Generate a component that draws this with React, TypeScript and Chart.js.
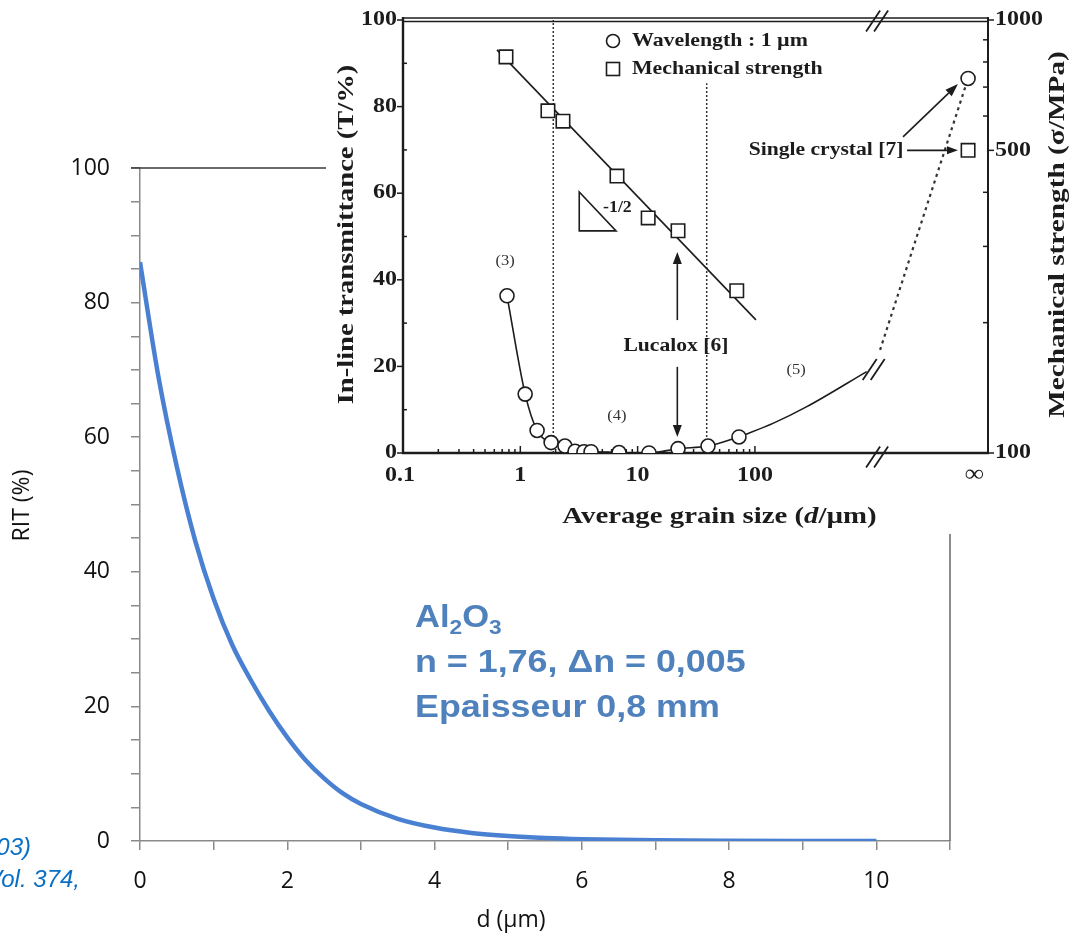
import React, { useEffect, useRef } from 'react';
import { Chart, registerables } from 'chart.js';

Chart.register(...registerables);

// ===== Main chart: RIT vs grain size d
const grainSize = [0, 0.25, 0.5, 0.75, 1, 1.25, 1.5, 1.75, 2, 2.25, 2.5, 2.75, 3, 3.5, 4, 4.5, 5, 5.5, 6, 7, 8, 9, 10];
const ritPercent = [86, 69.0, 55.6, 44.6, 36.0, 29.2, 24.0, 19.4, 15.4, 12.0, 9.3, 7.1, 5.5, 3.3, 2.0, 1.2, 0.73, 0.44, 0.27, 0.1, 0.04, 0.015, 0.005];
const mainXLabelValues = [0, 2, 4, 6, 8, 10];
const mainYLabelValues = [0, 20, 40, 60, 80, 100];
const mainXTitle = 'd (µm)';
const mainYTitle = 'RIT (%)';
const materialLines = ['n = 1,76, Δn = 0,005', 'Epaisseur 0,8 mm'];
const referenceLines = ['(2003)', 'Vol. 374,'];

// ===== Inset (scanned figure): transmittance & strength vs grain size
const circleGrain = [0.77, 1.10, 1.39, 1.83, 2.40, 2.93, 3.49, 4.01, 6.94, 12.5, 22.1, 39.8, 73.1];
const circleTrans = [36.3, 13.6, 5.2, 2.4, 1.6, 0.4, 0.3, 0.3, 0.1, 0, 1.0, 1.6, 3.7];
const tailGrain = [73.1, 144, 277, 897];
const tailTrans = [3.7, 6.9, 10.7, 18.8];
const squareGrain = [0.755, 1.72, 2.31, 6.67, 12.3, 22.1, 70];
const squareStrength = [822, 617, 584, 436, 349, 326, 237];
const fitGrain = [0.632, 102];
const fitStrength = [853, 203];
const infinityGrain = 6560;
const crystalTrans = 86.5;
const crystalStrength = 500;
const dottedGrain = [1166, 6560];
const dottedTrans = [23.8, 86.5];
const limitGrain = [1.91, 38.8];
const limitTop = [100, 85.4];
const breakGrain = 1100;
const insetXTickValues = [0.1, 1, 10, 100];
const insetXTickLabels = ['0.1', '1', '10', '100'];
const insetXMinor = [0.2, 0.3, 0.4, 0.5, 0.6, 0.7, 0.8, 0.9, 2, 3, 4, 5, 6, 7, 8, 9, 20, 30, 40, 50, 60, 70, 80, 90];
const insetLeftTicks = [0, 20, 40, 60, 80, 100];
const insetLeftMinor = [10, 30, 50, 70, 90];
const insetRightTicks = [100, 500, 1000];
const insetRightMinor = [200, 300, 400, 600, 700, 800, 900];
const legendLabels = ['Wavelength : 1 µm', 'Mechanical strength'];

const SERIF = '"Liberation Serif", "DejaVu Serif", serif';
const SANS = '"Open Sans", "Liberation Sans", sans-serif';
const ARIAL = '"Liberation Sans", Arial, sans-serif';
const INK = '#1c1c1c';
const BLUE_TEXT = '#4f81bd';

type TxtOpts = { align?: CanvasTextAlign; baseline?: CanvasTextBaseline; rot?: number; sx?: number; color?: string };

function txt(ctx: CanvasRenderingContext2D, s: string, x: number, y: number, font: string, o: TxtOpts = {}) {
  ctx.save();
  ctx.translate(x, y);
  if (o.rot) ctx.rotate(o.rot);
  if (o.sx) ctx.scale(o.sx, 1);
  ctx.font = font;
  ctx.fillStyle = o.color || INK;
  ctx.textAlign = o.align || 'left';
  ctx.textBaseline = o.baseline || 'alphabetic';
  ctx.fillText(s, 0, 0);
  ctx.restore();
}

function rich(ctx: CanvasRenderingContext2D, parts: { t: string; f: string; dy?: number }[], x: number, y: number, o: TxtOpts = {}) {
  ctx.save();
  ctx.translate(x, y);
  if (o.rot) ctx.rotate(o.rot);
  if (o.sx) ctx.scale(o.sx, 1);
  ctx.fillStyle = o.color || INK;
  ctx.textBaseline = o.baseline || 'alphabetic';
  ctx.textAlign = 'left';
  let total = 0;
  for (const p of parts) { ctx.font = p.f; total += ctx.measureText(p.t).width; }
  let cx = o.align === 'center' ? -total / 2 : o.align === 'right' ? -total : 0;
  for (const p of parts) {
    ctx.font = p.f;
    ctx.fillText(p.t, cx, p.dy || 0);
    cx += ctx.measureText(p.t).width;
  }
  ctx.restore();
}

function seg(ctx: CanvasRenderingContext2D, x1: number, y1: number, x2: number, y2: number) {
  ctx.beginPath();
  ctx.moveTo(x1, y1);
  ctx.lineTo(x2, y2);
  ctx.stroke();
}

function arrow(ctx: CanvasRenderingContext2D, x1: number, y1: number, x2: number, y2: number, head = 12, half = 4.5) {
  ctx.save();
  ctx.strokeStyle = INK;
  ctx.fillStyle = INK;
  ctx.lineWidth = 1.6;
  const a = Math.atan2(y2 - y1, x2 - x1);
  const bx = x2 - head * Math.cos(a);
  const by = y2 - head * Math.sin(a);
  seg(ctx, x1, y1, bx, by);
  ctx.beginPath();
  ctx.moveTo(x2, y2);
  ctx.lineTo(bx - half * Math.sin(a), by + half * Math.cos(a));
  ctx.lineTo(bx + half * Math.sin(a), by - half * Math.cos(a));
  ctx.closePath();
  ctx.fill();
  ctx.restore();
}

function slashes(ctx: CanvasRenderingContext2D, cx: number, cy: number) {
  ctx.save();
  ctx.strokeStyle = INK;
  ctx.lineWidth = 1.8;
  for (const k of [-4, 4]) seg(ctx, cx + k - 7, cy + 10.5, cx + k + 7, cy - 10.5);
  ctx.restore();
}

const mainPlugin = {
  id: 'mainDecor',
  afterDraw(chart: any) {
    const { ctx, chartArea: ca } = chart;
    ctx.save();
    ctx.lineWidth = 1.5;
    ctx.strokeStyle = '#3a3a3a';
    seg(ctx, ca.left - 9, ca.top, ca.right, ca.top);
    ctx.strokeStyle = '#666666';
    seg(ctx, ca.right, ca.top, ca.right, ca.bottom);
    ctx.restore();

    txt(ctx, mainYTitle, 22, (ca.top + ca.bottom) / 2 + 1, `23px ${SANS}`, { align: 'center', baseline: 'middle', rot: -Math.PI / 2, color: '#111' });
    txt(ctx, mainXTitle, ca.left + 371, 920, `23px ${SANS}`, { align: 'center', baseline: 'middle', color: '#111' });

    const bf = `bold 32px ${ARIAL}`;
    const sf = `bold 21px ${ARIAL}`;
    const lx = ca.left + 275;
    rich(ctx, [
      { t: 'Al', f: bf },
      { t: '2', f: sf, dy: 7 },
      { t: 'O', f: bf },
      { t: '3', f: sf, dy: 7 },
    ], lx, ca.top + 459, { color: BLUE_TEXT, sx: 1.08 });
    materialLines.forEach((s, i) => txt(ctx, s, lx, ca.top + 504 + 45 * i, bf, { color: BLUE_TEXT, sx: 1.12 }));

    const rf = `italic 24px ${ARIAL}`;
    txt(ctx, referenceLines[0], 31, 855, rf, { align: 'right', color: '#0a70c4' });
    txt(ctx, referenceLines[1], 80, 887, rf, { align: 'right', color: '#0a70c4' });
  },
};

const insetPlugin = {
  id: 'insetDecor',
  beforeDatasetsDraw(chart: any) {
    const { ctx, chartArea: ca, scales } = chart;
    const { x, y, y2 } = scales;
    ctx.save();
    ctx.strokeStyle = INK;
    ctx.lineWidth = 2.4;
    seg(ctx, ca.left, ca.top - 3, ca.left, ca.bottom + 1);
    seg(ctx, ca.left - 1, ca.bottom, ca.right + 1, ca.bottom);
    ctx.lineWidth = 2;
    seg(ctx, ca.right, ca.top - 3, ca.right, ca.bottom + 1);
    ctx.lineWidth = 1.4;
    seg(ctx, ca.left, ca.top - 2, ca.right, ca.top - 2);
    seg(ctx, ca.left, ca.top + 1.5, ca.right, ca.top + 1.5);

    ctx.lineWidth = 1.5;
    for (const v of insetLeftTicks) { const p = y.getPixelForValue(v); seg(ctx, ca.left - 6, p, ca.left, p); }
    for (const v of insetLeftMinor) { const p = y.getPixelForValue(v); seg(ctx, ca.left, p, ca.left + 4, p); }
    for (const v of insetRightTicks) { const p = y2.getPixelForValue(v); seg(ctx, ca.right, p, ca.right + 6, p); }
    for (const v of insetRightMinor) { const p = y2.getPixelForValue(v); seg(ctx, ca.right - 5, p, ca.right, p); }
    for (const v of insetXTickValues) { const p = x.getPixelForValue(v); seg(ctx, p, ca.bottom, p, ca.bottom - 7); }
    for (const v of insetXMinor) { const p = x.getPixelForValue(v); seg(ctx, p, ca.bottom, p, ca.bottom - 4); }
    ctx.restore();
  },
  afterDatasetsDraw(chart: any) {
    const { ctx, chartArea: ca, scales } = chart;
    const { x, y, y2 } = scales;
    const px = (v: number) => x.getPixelForValue(v);
    const py = (v: number) => y.getPixelForValue(v);
    const ps = (v: number) => y2.getPixelForValue(v);

    // break marks
    const bx = px(breakGrain);
    slashes(ctx, bx, ca.top + 1);
    slashes(ctx, bx, ca.bottom + 4);
    slashes(ctx, px(tailGrain[tailGrain.length - 1]) + 7, py(tailTrans[tailTrans.length - 1]) - 2);

    // slope triangle
    ctx.save();
    ctx.strokeStyle = INK;
    ctx.lineWidth = 1.6;
    ctx.beginPath();
    ctx.moveTo(px(3.18), py(60.3));
    ctx.lineTo(px(3.18), py(51.3));
    ctx.lineTo(px(6.55), py(51.3));
    ctx.closePath();
    ctx.stroke();
    ctx.restore();
    txt(ctx, '-1/2', px(5.07), py(56.6), `bold 17px ${SERIF}`, { baseline: 'middle', sx: 1.05 });

    // region labels
    const rf = `15px ${SERIF}`;
    txt(ctx, '(3)', px(0.741), py(44.3), rf, { align: 'center', baseline: 'middle', sx: 1.1, color: '#333' });
    txt(ctx, '(4)', px(6.67), py(8.5), rf, { align: 'center', baseline: 'middle', sx: 1.1, color: '#333' });
    txt(ctx, '(5)', px(224), py(19.2), rf, { align: 'center', baseline: 'middle', sx: 1.1, color: '#333' });

    // Lucalox
    const af = `bold 18px ${SERIF}`;
    txt(ctx, 'Lucalox [6]', px(21.2), py(24.7), af, { align: 'center', baseline: 'middle', sx: 1.2 });
    arrow(ctx, px(21.8), py(30.7), px(21.8), py(46.4));
    arrow(ctx, px(21.8), py(19.9), px(21.8), py(3.7));

    // Single crystal
    txt(ctx, 'Single crystal [7]', px(404), ps(crystalStrength), af, { align: 'center', baseline: 'middle', sx: 1.2 });
    arrow(ctx, px(1980), ps(crystalStrength), px(5380), ps(crystalStrength), 11, 4);
    arrow(ctx, px(1830), py(73.0), px(5380), py(85.2), 13, 4.5);

    // legend
    const lx = ca.left + 210;
    const ly1 = ca.top + 21;
    const ly2 = ca.top + 49;
    ctx.save();
    ctx.strokeStyle = INK;
    ctx.fillStyle = '#fff';
    ctx.lineWidth = 1.6;
    ctx.beginPath();
    ctx.arc(lx, ly1, 6.5, 0, Math.PI * 2);
    ctx.fill();
    ctx.stroke();
    ctx.strokeRect(lx - 6.5, ly2 - 6.5, 13, 13);
    ctx.restore();
    const lf = `bold 19px ${SERIF}`;
    txt(ctx, legendLabels[0], lx + 19, ly1, lf, { baseline: 'middle', sx: 1.15 });
    txt(ctx, legendLabels[1], lx + 19, ly2, lf, { baseline: 'middle', sx: 1.15 });
  },
  afterDraw(chart: any) {
    const { ctx, chartArea: ca, scales } = chart;
    const { x, y, y2 } = scales;
    const tf = `bold 20px ${SERIF}`;
    for (const v of insetLeftTicks) txt(ctx, String(v), ca.left - 6, y.getPixelForValue(v), tf, { align: 'right', baseline: 'middle', sx: 1.2 });
    for (const v of insetRightTicks) txt(ctx, String(v), ca.right + 7, y2.getPixelForValue(v), tf, { align: 'left', baseline: 'middle', sx: 1.2 });
    insetXTickValues.forEach((v, i) => txt(ctx, insetXTickLabels[i], x.getPixelForValue(v) - (i === 0 ? 3 : 0), ca.bottom + 23, tf, { align: 'center', baseline: 'middle', sx: 1.2 }));
    txt(ctx, '∞', x.getPixelForValue(infinityGrain) + 6, ca.bottom + 22, `bold 24px ${SERIF}`, { align: 'center', baseline: 'middle', sx: 1.1 });

    const ttf = `bold 24px ${SERIF}`;
    const midY = (ca.top + ca.bottom) / 2 - 2;
    txt(ctx, 'In-line transmittance (T/%)', ca.left - 56, midY, ttf, { align: 'center', baseline: 'middle', rot: -Math.PI / 2, sx: 1.19 });
    txt(ctx, 'Mechanical strength (σ/MPa)', ca.right + 70, midY, ttf, { align: 'center', baseline: 'middle', rot: -Math.PI / 2, sx: 1.22 });
    rich(ctx, [
      { t: 'Average grain size (', f: ttf },
      { t: 'd', f: `bold italic 24px ${SERIF}` },
      { t: '/µm)', f: ttf },
    ], (ca.left + ca.right) / 2 + 24, ca.bottom + 64, { align: 'center', baseline: 'middle', sx: 1.2 });
  },
};

const pts = (xs: number[], ys: number[]) => xs.map((v, i) => ({ x: v, y: ys[i] }));

export default function App() {
  const mainRef = useRef<HTMLCanvasElement>(null);
  const insetRef = useRef<HTMLCanvasElement>(null);

  useEffect(() => {
    const tickColor = '#8a8a8a';
    const main = new Chart(mainRef.current as HTMLCanvasElement, {
      type: 'scatter',
      data: {
        datasets: [
          {
            data: pts(grainSize, ritPercent),
            showLine: true,
            borderColor: '#4a80d2',
            borderWidth: 4.5,
            pointRadius: 0,
            cubicInterpolationMode: 'monotone',
          } as any,
        ],
      },
      options: {
        responsive: false,
        animation: false,
        layout: { padding: { top: 168, right: 136, bottom: 0, left: 0 } },
        plugins: { legend: { display: false }, tooltip: { enabled: false } },
        scales: {
          x: {
            type: 'linear',
            min: 0,
            max: 11,
            afterFit: (s: any) => { s.height = 99; },
            border: { color: tickColor, width: 1.5 },
            grid: { drawOnChartArea: false, drawTicks: true, tickLength: 9, color: tickColor, lineWidth: 1.5 },
            ticks: {
              stepSize: 1,
              autoSkip: false,
              maxRotation: 0,
              padding: 18,
              color: '#111',
              font: { family: SANS, size: 23 },
              callback: (v: any) => (mainXLabelValues.includes(Number(v)) ? String(v) : ''),
            },
          },
          y: {
            type: 'linear',
            min: 0,
            max: 100,
            afterFit: (s: any) => { s.width = 140; },
            border: { color: tickColor, width: 1.5 },
            grid: { drawOnChartArea: false, drawTicks: true, tickLength: 9, color: tickColor, lineWidth: 1.5 },
            ticks: {
              stepSize: 5,
              autoSkip: false,
              padding: 21,
              color: '#111',
              font: { family: SANS, size: 23 },
              callback: (v: any) => (mainYLabelValues.includes(Number(v)) ? String(v) : ''),
            },
          },
        },
      },
      plugins: [mainPlugin],
    } as any);

    const inset = new Chart(insetRef.current as HTMLCanvasElement, {
      type: 'scatter',
      data: {
        datasets: [
          {
            data: pts(squareGrain, squareStrength),
            yAxisID: 'y2',
            pointStyle: 'rect',
            pointRadius: 9.5,
            pointBackgroundColor: '#fff',
            pointBorderColor: INK,
            pointBorderWidth: 1.6,
            showLine: false,
          },
          {
            data: [{ x: infinityGrain, y: crystalStrength }],
            yAxisID: 'y2',
            pointStyle: 'rect',
            pointRadius: 9.5,
            pointBackgroundColor: '#fff',
            pointBorderColor: INK,
            pointBorderWidth: 1.6,
            showLine: false,
          },
          {
            data: pts(circleGrain, circleTrans),
            yAxisID: 'y',
            pointStyle: 'circle',
            pointRadius: 7,
            pointBackgroundColor: '#fff',
            pointBorderColor: INK,
            pointBorderWidth: 1.6,
            showLine: true,
            borderColor: INK,
            borderWidth: 1.6,
            cubicInterpolationMode: 'monotone',
          },
          {
            data: [{ x: infinityGrain, y: crystalTrans }],
            yAxisID: 'y',
            pointStyle: 'circle',
            pointRadius: 7,
            pointBackgroundColor: '#fff',
            pointBorderColor: INK,
            pointBorderWidth: 1.6,
            showLine: false,
          },
          {
            data: pts(tailGrain, tailTrans),
            yAxisID: 'y',
            pointRadius: 0,
            showLine: true,
            borderColor: INK,
            borderWidth: 1.6,
            cubicInterpolationMode: 'monotone',
          },
          {
            data: pts(dottedGrain, dottedTrans),
            yAxisID: 'y',
            pointRadius: 0,
            showLine: true,
            borderColor: '#333',
            borderWidth: 2.2,
            borderDash: [3, 4],
          },
          {
            data: pts(fitGrain, fitStrength),
            yAxisID: 'y2',
            pointRadius: 0,
            showLine: true,
            borderColor: INK,
            borderWidth: 1.6,
          },
          {
            data: [{ x: limitGrain[0], y: 0 }, { x: limitGrain[0], y: limitTop[0] }],
            yAxisID: 'y',
            pointRadius: 0,
            showLine: true,
            borderColor: '#333',
            borderWidth: 1.5,
            borderDash: [2, 2],
          },
          {
            data: [{ x: limitGrain[1], y: 0 }, { x: limitGrain[1], y: limitTop[1] }],
            yAxisID: 'y',
            pointRadius: 0,
            showLine: true,
            borderColor: '#333',
            borderWidth: 1.5,
            borderDash: [2, 2],
          },
        ] as any,
      },
      options: {
        responsive: false,
        animation: false,
        layout: { padding: { top: 20, right: 98, bottom: 81, left: 77 } },
        plugins: { legend: { display: false }, tooltip: { enabled: false } },
        scales: {
          x: { type: 'logarithmic', min: 0.1, max: 9700, display: false },
          y: { type: 'linear', min: 0, max: 100, display: false },
          y2: { type: 'logarithmic', min: 100, max: 1000, display: false },
        },
      },
      plugins: [insetPlugin],
    } as any);

    return () => {
      main.destroy();
      inset.destroy();
    };
  }, []);

  return (
    <div style={{ position: 'absolute', left: 0, top: 0, width: 1086, height: 940, background: '#fff', overflow: 'hidden' }}>
      <canvas ref={mainRef} width={1086} height={940} style={{ position: 'absolute', left: 0, top: 0, width: 1086, height: 940 }} />
      <canvas ref={insetRef} width={760} height={534} style={{ position: 'absolute', left: 326, top: 0, width: 760, height: 534, background: '#fff' }} />
    </div>
  );
}
